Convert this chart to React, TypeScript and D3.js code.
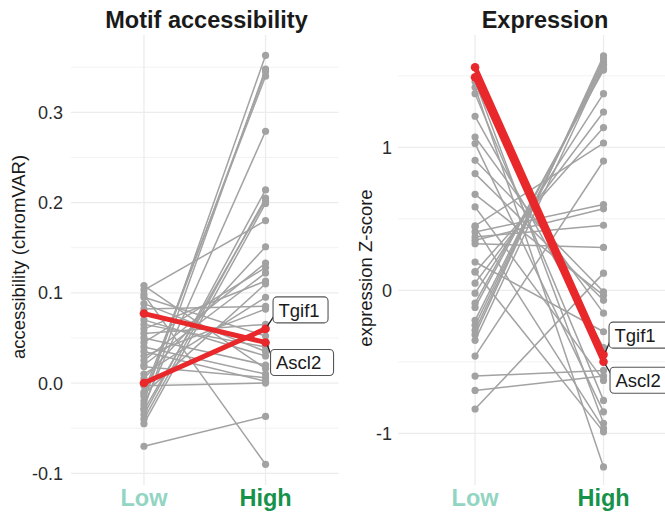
import React from 'react';
import { scaleLinear, scalePoint } from 'd3';

// canvas
const width = 665;
const height = 512;
const font = '"Liberation Sans", Arial, sans-serif';

// groups on the x axis
const groups = ['Low', 'High'];
const groupColors = ['#93d5c3', '#17924a'];

// Motif accessibility (chromVAR), grey motifs
const motifLow = [
  -0.02, -0.028, -0.015, -0.01, -0.024, -0.035, -0.04, -0.03, -0.045, 0.103,
  0.005, 0.025, 0.045, 0.02, 0.06, -0.012, 0.03, 0.055, 0.095, 0.065, 0.088,
  0.07, 0.05, 0.108, 0.04, 0.018, 0.035, -0.003, -0.07, 0.098, 0.082, 0.01,
];
const motifHigh = [
  0.363, 0.348, 0.345, 0.34, 0.279, 0.214, 0.205, 0.202, 0.199, 0.18, 0.151,
  0.133, 0.128, 0.122, 0.113, 0.11, 0.082, 0.065, 0.052, 0.04, 0.035, 0.03,
  0.02, 0.016, 0.01, 0.006, 0.002, 0.0, -0.037, -0.09, 0.085, 0.095,
];
const motifTicks = [-0.1, 0, 0.1, 0.2, 0.3];
const motifMinor = [-0.05, 0.05, 0.15, 0.25, 0.35];

// Expression Z-score, grey genes
const exprLow = [
  -0.31, -0.28, -0.245, -0.21, -0.35, -0.12, -0.09, -0.02, 0.05, 0.128, 0.45,
  -0.46, 0.408, 0.35, 0.373, 0.326, -0.83, 0.909, 0.671, 0.816, 1.072, 0.198,
  1.217, -0.6, -0.7, 0.583, 1.375, 1.026, 1.46, 0.443, 0.13, 1.42,
];
const exprHigh = [
  1.64, 1.62, 1.6, 1.58, 1.57, 1.55, 1.54, 1.375, 1.247, 1.138, 1.03, 0.904,
  0.6, 0.57, 0.455, 0.3, 0.12, -0.01, -0.035, -0.07, -0.16, -0.29, -0.4, -0.56,
  -0.6, -0.63, -0.77, -0.85, -0.93, -0.965, -0.99, -1.235,
];
const exprTicks = [-1, 0, 1];
const exprMinor = [-0.5, 0.5, 1.5];

// highlighted genes
const highlightNames = ['Tgif1', 'Ascl2'];
const highlightMotifLow = [0.0, 0.077];
const highlightMotifHigh = [0.06, 0.045];
const highlightExprLow = [1.56, 1.49];
const highlightExprHigh = [-0.45, -0.5];

// styles
const greyColor = '#a2a2a2';
const redColor = '#e8282b';
const gridColor = '#ececec';

const Panel = ({
  title, titleX, yTitle, yTitleX, yTitleY, low, high, hLow, hHigh,
  yScale, xScale, ticks, minor, tickFormat, tickX, panelLeft, panelRight,
  labelBoxes,
}) => {
  const panelTop = 35;
  const panelBottom = 485;
  const xL = xScale('Low');
  const xH = xScale('High');
  return (
    <g>
      {minor.map((t) => (
        <line key={'m' + t} x1={panelLeft} x2={panelRight} y1={yScale(t)} y2={yScale(t)}
          stroke={gridColor} strokeWidth={0.7} />
      ))}
      {ticks.map((t) => (
        <line key={'t' + t} x1={panelLeft} x2={panelRight} y1={yScale(t)} y2={yScale(t)}
          stroke={gridColor} strokeWidth={1.3} />
      ))}
      {groups.map((g) => (
        <line key={g} x1={xScale(g)} x2={xScale(g)} y1={panelTop} y2={panelBottom}
          stroke={gridColor} strokeWidth={1.3} />
      ))}
      {ticks.map((t) => (
        <text key={'l' + t} x={tickX} y={yScale(t)} dy="0.36em" textAnchor="end"
          fontSize={18} fill="#2b2b2b">{tickFormat(t)}</text>
      ))}
      <text x={titleX} y={28} textAnchor="middle" fontSize={23.5} fontWeight="bold" fill="#1a1a1a">{title}</text>
      <text transform={`translate(${yTitleX},${yTitleY}) rotate(-90)`} textAnchor="middle"
        fontSize={18.5} fill="#1a1a1a">{yTitle}</text>
      {groups.map((g, i) => (
        <text key={'x' + g} x={xScale(g)} y={506} textAnchor="middle" fontSize={23.5}
          fontWeight="bold" fill={groupColors[i]}>{g}</text>
      ))}

      {low.map((v, i) => (
        <line key={'gl' + i} x1={xL} x2={xH} y1={yScale(v)} y2={yScale(high[i])}
          stroke={greyColor} strokeWidth={1.5} />
      ))}
      {low.map((v, i) => (
        <g key={'gp' + i}>
          <circle cx={xL} cy={yScale(v)} r={3.6} fill={greyColor} />
          <circle cx={xH} cy={yScale(high[i])} r={3.6} fill={greyColor} />
        </g>
      ))}

      {hLow.map((v, i) => (
        <line key={'rl' + i} x1={xL} x2={xH} y1={yScale(v)} y2={yScale(hHigh[i])}
          stroke={redColor} strokeWidth={5} strokeLinecap="round" />
      ))}
      {hLow.map((v, i) => (
        <g key={'rp' + i}>
          <circle cx={xL} cy={yScale(v)} r={4.3} fill={redColor} />
          <circle cx={xH} cy={yScale(hHigh[i])} r={4.3} fill={redColor} />
        </g>
      ))}

      {highlightNames.map((name, i) => {
        const b = labelBoxes[i];
        const py = yScale(hHigh[i]);
        const by = py + b.dy;
        return (
          <g key={name}>
            <line x1={xH + 2} y1={py + (b.dy < 0 ? -3 : 3)} x2={xH + b.dx + 1}
              y2={b.dy < 0 ? by + 6 : by - 6} stroke="#1a1a1a" strokeWidth={1.2} />
            <rect x={xH + b.dx} y={by - 13} width={b.w} height={26} rx={4}
              fill="#ffffff" stroke="#555555" strokeWidth={1.1} />
            <text x={xH + b.dx + 5.5} y={by} dy="0.36em" fontSize={18.5} fill="#1a1a1a">{name}</text>
          </g>
        );
      })}
    </g>
  );
};

const motifY = scaleLinear().domain([-0.1, 0.3]).range([473.3, 112.3]);
const motifX = scalePoint().domain(groups).range([71, 338.5]).padding(0.6);
const exprY = scaleLinear().domain([-1, 1]).range([433.3, 147.3]);
const exprX = scalePoint().domain(groups).range([398, 680.6]).padding(0.6);

export default function App() {
  return (
    <svg width={width} height={height} fontFamily={font}
      style={{ position: 'absolute', left: 0, top: 0, background: '#ffffff' }}>
      <Panel
        title="Motif accessibility" titleX={206.5}
        yTitle="accessibility (chromVAR)" yTitleX={25} yTitleY={257}
        low={motifLow} high={motifHigh} hLow={highlightMotifLow} hHigh={highlightMotifHigh}
        yScale={motifY} xScale={motifX} ticks={motifTicks} minor={motifMinor}
        tickFormat={(t) => t.toFixed(1)} tickX={63} panelLeft={71} panelRight={338.5}
        labelBoxes={[{ dx: 7.5, dy: -19, w: 55 }, { dx: 5, dy: 20, w: 63 }]}
      />
      <Panel
        title="Expression" titleX={545}
        yTitle="expression Z-score" yTitleX={372} yTitleY={268}
        low={exprLow} high={exprHigh} hLow={highlightExprLow} hHigh={highlightExprHigh}
        yScale={exprY} xScale={exprX} ticks={exprTicks} minor={exprMinor}
        tickFormat={(t) => String(t)} tickX={392} panelLeft={398} panelRight={680}
        labelBoxes={[{ dx: 5.5, dy: -19.5, w: 60 }, { dx: 6.5, dy: 18.5, w: 62 }]}
      />
    </svg>
  );
}
